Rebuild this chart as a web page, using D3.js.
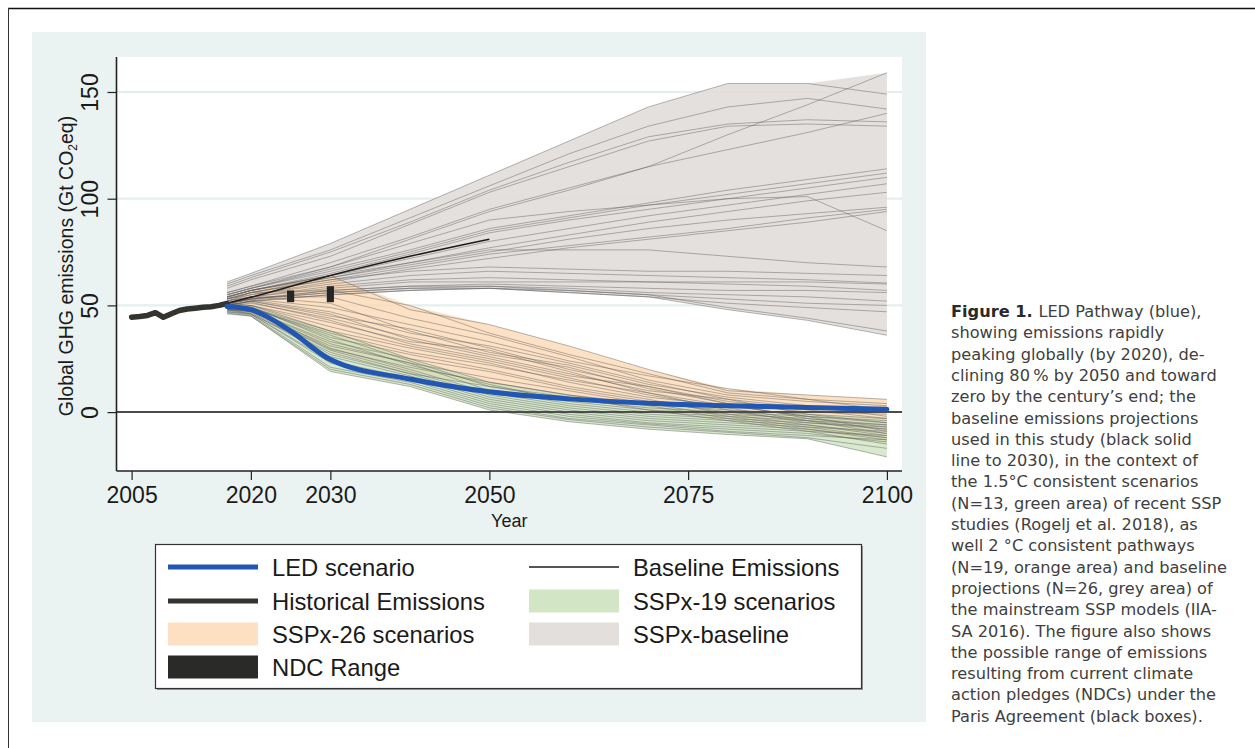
<!DOCTYPE html>
<html><head><meta charset="utf-8">
<script src="https://cdn.jsdelivr.net/npm/d3@7"></script>
<style>
html,body{margin:0;padding:0;background:#fff;}
svg{display:block;}
</style></head><body>
<svg id="c" width="1255" height="748"></svg>
<script>
// ---------------- DATA ----------------
const scenarioYears = [2017, 2020, 2030, 2040, 2050, 2060, 2070, 2080, 2090, 2100];

const baselineScenarios = [
  [61, 65, 79, 95, 111, 127, 143, 154, 154, 149],
  [55, 58, 68, 81, 94, 104, 115, 130, 144, 159],
  [56, 59, 70, 82, 95, 105, 115, 123, 131, 140],
  [60, 64, 76, 91, 106, 121, 134, 143, 147, 142],
  [59, 63, 75, 89, 104, 117, 129, 135, 137, 136],
  [58, 62, 73, 88, 103, 115, 127, 134, 135, 134],
  [55, 58, 67, 76, 86, 92, 98, 104, 109, 114],
  [55, 58, 66, 75, 85, 91, 97, 102, 107, 112],
  [54, 57, 65, 74, 84, 90, 95, 100, 105, 110],
  [54, 57, 64, 72, 80, 86, 92, 97, 102, 107],
  [53, 56, 63, 70, 77, 83, 89, 94, 99, 103],
  [56, 59, 68, 79, 90, 94, 97, 100, 101, 85],
  [53, 56, 62, 68, 74, 78, 82, 86, 91, 95],
  [53, 55, 61, 67, 72, 77, 81, 85, 89, 94],
  [54, 57, 64, 70, 76, 76, 76, 73, 70, 68],
  [53, 56, 62, 66, 68, 67, 66, 66, 65, 64],
  [52, 55, 60, 64, 66, 65, 64, 63, 62, 60.5],
  [52, 54, 59, 62, 63, 62, 61, 60, 59, 57],
  [52, 54, 58, 61, 61, 61, 61, 61, 61, 60],
  [51, 53, 57, 59, 60, 59, 58, 57, 57, 56],
  [51, 53, 57, 59, 59, 58, 56, 55, 54, 52],
  [51, 53, 56, 58, 59, 57, 55, 53, 51, 50],
  [51, 53, 56, 58, 58, 56, 54, 51, 49, 47],
  [50, 52, 55, 57, 58, 57, 55, 49, 44, 38],
  [50, 52, 55, 57, 58, 56, 54, 48, 43, 36],
  [54, 57, 63, 69, 75, 81, 86, 90, 93, 96]
];

const ssp26Scenarios = [
  [53.5, 57, 64, 48, 41, 31, 20, 10, 8, 6],
  [52, 56, 57, 50, 37, 27, 18, 9, 6, 4],
  [51, 54, 54, 44, 36, 26, 15, 8, 5, 3],
  [50.5, 53, 49, 41, 33, 24, 17, 11, 6, 1],
  [51, 52.5, 47, 37, 31, 23, 14, 6, 2, 0],
  [50, 54, 51, 38, 28, 22, 13, 7, 3, -2],
  [50, 52, 45, 39, 30, 20, 12, 5, 1, -3],
  [49.5, 51, 44, 35, 27, 21, 11, 4, 0, -1],
  [50, 52, 46, 34, 26, 18, 10, 6, -1, -5],
  [49, 50, 42, 33, 29, 19, 9, 3, -2, -4],
  [50, 51.5, 43, 32, 25, 17, 12, 4, -3, -7],
  [49, 50, 40, 31, 24, 16, 8, 2, -4, -6],
  [49.5, 49, 38, 30, 23, 14, 7, 3, -2, -9],
  [49, 48.5, 37, 28, 22, 15, 9, 1, -5, -8],
  [48.5, 49, 35, 27, 20, 12, 6, -1, -6, -11],
  [48, 48, 33, 25, 19, 11, 5, 0, -4, -10],
  [48.5, 47, 31, 23, 16, 10, 4, -2, -7, -12],
  [48, 47.5, 29.5, 21, 14, 8, 3, -3, -8, -13],
  [48, 46, 28, 18, 12, 7, 1, -4, -9, -15]
];

const ssp19Scenarios = [
  [51, 50, 38, 25, 14, 8, 4, 1, -1, -3],
  [50, 49, 36, 24, 12, 6, 2, 0, -2, -5],
  [49.5, 49.5, 34, 22, 13, 5, 1, -1, -3, -6],
  [49, 48, 32, 23, 10, 4, 0, -2, -4, -8],
  [49, 48.5, 30, 20, 9, 3, -1, -3, -5, -7],
  [48.5, 47.5, 29, 19, 8, 2, -2, -4, -6, -10],
  [48, 47, 27, 18, 7, 1, -3, -5, -7, -9],
  [48, 46.5, 26, 17, 6, 0, -4, -6, -8, -12],
  [47.5, 46, 24, 16, 5, -1, -5, -7, -9, -11],
  [47, 46, 23, 15, 4, -2, -5.5, -8, -10, -14],
  [47, 45.5, 21, 14, 3, -3, -6, -9, -11, -13],
  [46.5, 45, 20, 13, 2, -3.5, -7, -9.5, -12, -17],
  [46, 45, 19, 12, 1, -4.5, -8, -10.5, -12.5, -21]
];

const histYears = [2005, 2006, 2007, 2008, 2009, 2010, 2011, 2012, 2013, 2014, 2015, 2016, 2017];
const histValues = [44.5, 44.8, 45.3, 46.6, 44.4, 46.1, 47.6, 48.3, 48.7, 49.1, 49.4, 50.0, 50.9];

const ledYears = [2017, 2020, 2025, 2030, 2040, 2050, 2060, 2070, 2080, 2090, 2100];
const ledValues = [49.5, 48, 38, 24.6, 15.5, 9.5, 6.2, 4.2, 3.0, 2.2, 1.3];

const baseEmYears = [2017, 2020, 2030, 2040, 2050];
const baseEmValues = [51, 53.8, 64, 73, 81];

const ndcYears = [2025, 2030];
const ndcLow = [51.5, 51.5];
const ndcHigh = [57, 59];

const xTicks = [2005, 2020, 2030, 2050, 2075, 2100];
const yTicks = [0, 50, 100, 150];

const legendLabels = ["LED scenario", "Historical Emissions", "SSPx-26 scenarios", "NDC Range",
                      "Baseline Emissions", "SSPx-19 scenarios", "SSPx-baseline"];

const captionLines = [
  "LED Pathway (blue),",
  "showing emissions rapidly",
  "peaking globally (by 2020), de-",
  "clining 80\u202F% by 2050 and toward",
  "zero by the century\u2019s end; the",
  "baseline emissions projections",
  "used in this study (black solid",
  "line to 2030), in the context of",
  "the 1.5°C consistent scenarios",
  "(N=13, green area) of recent SSP",
  "studies (Rogelj et al. 2018), as",
  "well 2 °C consistent pathways",
  "(N=19, orange area) and baseline",
  "projections (N=26, grey area) of",
  "the mainstream SSP models (IIA-",
  "SA 2016). The figure also shows",
  "the possible range of emissions",
  "resulting from current climate",
  "action pledges (NDCs) under the",
  "Paris Agreement (black boxes)."
];

// ---------------- DRAW ----------------
const svg = d3.select("#c");
const FONT = "'Liberation Sans', Arial, Helvetica, sans-serif";

// outer frame
svg.append("line").attr("x1", 8).attr("x2", 1255).attr("y1", 8.5).attr("y2", 8.5)
  .attr("stroke", "#111").attr("stroke-width", 1.5);
svg.append("line").attr("x1", 8.5).attr("x2", 8.5).attr("y1", 8).attr("y2", 748)
  .attr("stroke", "#333").attr("stroke-width", 1);

// panel
svg.append("rect").attr("x", 32).attr("y", 32).attr("width", 894).attr("height", 690)
  .attr("fill", "#eaf3f1");

const L = 116.5, R = 902, T = 57, B = 471;
svg.append("rect").attr("x", L).attr("y", T).attr("width", R - L).attr("height", B - T).attr("fill", "#fff");

const x = d3.scaleLinear().domain([2003.1, 2101.9]).range([L, R]);
const y = d3.scaleLinear().domain([-27.6, 166.4]).range([B, T]);

// grid
svg.append("g").selectAll("line").data(yTicks.filter(d => d !== 0)).join("line")
  .attr("x1", L).attr("x2", R).attr("y1", d => y(d)).attr("y2", d => y(d))
  .attr("stroke", "#e3efec").attr("stroke-width", 2.2);

const plot = svg.append("g");

function envelope(arr) {
  return scenarioYears.map((yr, i) => ({
    yr, lo: d3.min(arr, s => s[i]), hi: d3.max(arr, s => s[i])
  }));
}
const area = d3.area().x(d => x(d.yr)).y0(d => y(d.lo)).y1(d => y(d.hi));
const sline = d3.line().x((d, i) => x(scenarioYears[i])).y(d => y(d));

plot.append("path").attr("d", area(envelope(baselineScenarios)))
  .attr("fill", "#e0dcd8").attr("fill-opacity", 0.88);
plot.append("path").attr("d", area(envelope(ssp26Scenarios)))
  .attr("fill", "#fdd9b3").attr("fill-opacity", 0.78);
plot.append("path").attr("d", area(envelope(ssp19Scenarios)))
  .attr("fill", "#c8e0b8").attr("fill-opacity", 0.7);

const allLines = baselineScenarios.concat(ssp26Scenarios, ssp19Scenarios);
plot.append("g").selectAll("path").data(allLines).join("path")
  .attr("d", d => sline(d)).attr("fill", "none")
  .attr("stroke", "#5e5e5e").attr("stroke-opacity", 0.5).attr("stroke-width", 0.9);

// zero line
plot.append("line").attr("x1", L).attr("x2", R).attr("y1", y(0)).attr("y2", y(0))
  .attr("stroke", "#4a4d4a").attr("stroke-width", 2);

// baseline emissions
plot.append("path").datum(baseEmYears.map((yr, i) => [yr, baseEmValues[i]]))
  .attr("d", d3.line().x(d => x(d[0])).y(d => y(d[1])).curve(d3.curveMonotoneX))
  .attr("fill", "none").attr("stroke", "#1c1c1c").attr("stroke-width", 1.6);

// historical
plot.append("path").datum(histYears.map((yr, i) => [yr, histValues[i]]))
  .attr("d", d3.line().x(d => x(d[0])).y(d => y(d[1])))
  .attr("fill", "none").attr("stroke", "#33332f").attr("stroke-width", 5.5)
  .attr("stroke-linecap", "round").attr("stroke-linejoin", "round");

// NDC boxes
plot.append("g").selectAll("rect").data(ndcYears).join("rect")
  .attr("x", d => x(d - 0.45)).attr("width", d => x(d + 0.45) - x(d - 0.45))
  .attr("y", (d, i) => y(ndcHigh[i])).attr("height", (d, i) => y(ndcLow[i]) - y(ndcHigh[i]))
  .attr("fill", "#262624");

// LED
plot.append("path").datum(ledYears.map((yr, i) => [yr, ledValues[i]]))
  .attr("d", d3.line().x(d => x(d[0])).y(d => y(d[1])).curve(d3.curveMonotoneX))
  .attr("fill", "none").attr("stroke", "#2156b2").attr("stroke-width", 5)
  .attr("stroke-linecap", "round");

// axes
const yAxis = svg.append("g").attr("transform", `translate(${L},0)`)
  .call(d3.axisLeft(y).tickValues(yTicks).tickSize(9).tickFormat(d3.format("d")));
yAxis.select(".domain").attr("d", `M0,${T}V${B}`).attr("stroke", "#222").attr("stroke-width", 1.6);
yAxis.selectAll(".tick line").attr("stroke", "#222").attr("stroke-width", 1.2);
yAxis.selectAll(".tick text").attr("x", 0).attr("y", -19).attr("dy", 0)
  .attr("transform", "rotate(-90)").attr("text-anchor", "middle")
  .attr("font-family", FONT).attr("font-size", 23).attr("fill", "#1a1a1a");

const xAxis = svg.append("g").attr("transform", `translate(0,${B})`)
  .call(d3.axisBottom(x).tickValues(xTicks).tickSize(9).tickFormat(d3.format("d")));
xAxis.select(".domain").attr("d", `M${L},0H${R}`).attr("stroke", "#222").attr("stroke-width", 1.6);
xAxis.selectAll(".tick line").attr("stroke", "#222").attr("stroke-width", 1.2);
xAxis.selectAll(".tick text").attr("y", 32).attr("dy", 0)
  .attr("font-family", FONT).attr("font-size", 23).attr("fill", "#1a1a1a");

svg.append("text").attr("x", (L + R) / 2).attr("y", 527).attr("text-anchor", "middle")
  .attr("font-family", FONT).attr("font-size", 18).attr("fill", "#1a1a1a").text("Year");

const yt = svg.append("text").attr("transform", "translate(73,266) rotate(-90)")
  .attr("text-anchor", "middle").attr("font-family", FONT).attr("font-size", 19.5).attr("fill", "#1a1a1a");
yt.append("tspan").text("Global GHG emissions (Gt CO");
yt.append("tspan").attr("font-size", 12).attr("dy", 4).text("2");
yt.append("tspan").attr("dy", -4).text("eq)");

// legend
const lg = svg.append("g");
lg.append("rect").attr("x", 157).attr("y", 546).attr("width", 706).attr("height", 144).attr("fill", "#9a9a9a");
lg.append("rect").attr("x", 155.5).attr("y", 544.5).attr("width", 706).attr("height", 144)
  .attr("fill", "#fff").attr("stroke", "#333").attr("stroke-width", 1.2);

const legendStyles = [
  {type: "line", color: "#2156b2", w: 5},
  {type: "line", color: "#33332f", w: 5},
  {type: "rect", color: "#fde0c1"},
  {type: "rect", color: "#2a2a28"},
  {type: "line", color: "#1c1c1c", w: 1.6},
  {type: "rect", color: "#d2e5c5"},
  {type: "rect", color: "#e2dfdc"}
];
const rowY = [567, 601, 634, 667];
legendLabels.forEach((lab, i) => {
  const col = i < 4 ? 0 : 1;
  const row = i < 4 ? i : i - 4;
  const sx = col === 0 ? 168 : 529;
  const cy = rowY[row];
  const st = legendStyles[i];
  if (st.type === "line") {
    lg.append("line").attr("x1", sx).attr("x2", sx + 90).attr("y1", cy).attr("y2", cy)
      .attr("stroke", st.color).attr("stroke-width", st.w);
  } else {
    lg.append("rect").attr("x", sx).attr("y", cy - 11.5).attr("width", 90).attr("height", 23)
      .attr("fill", st.color);
  }
  lg.append("text").attr("x", sx + 104).attr("y", cy + 8.5).attr("font-family", FONT)
    .attr("font-size", 23.8).attr("fill", "#1a1a1a").text(lab);
});

// caption
const cap = svg.append("g").attr("font-family", "'DejaVu Sans', 'Open Sans', sans-serif")
  .attr("font-size", 16.2).attr("fill", "#404040");
captionLines.forEach((ln, i) => {
  const t = cap.append("text").attr("x", 951).attr("y", 317 + i * 21.3);
  if (i === 0) {
    t.append("tspan").attr("font-weight", "bold").attr("fill", "#2a2a2a").text("Figure 1. ");
  }
  t.append("tspan").text(ln);
});
</script>
</body></html>
